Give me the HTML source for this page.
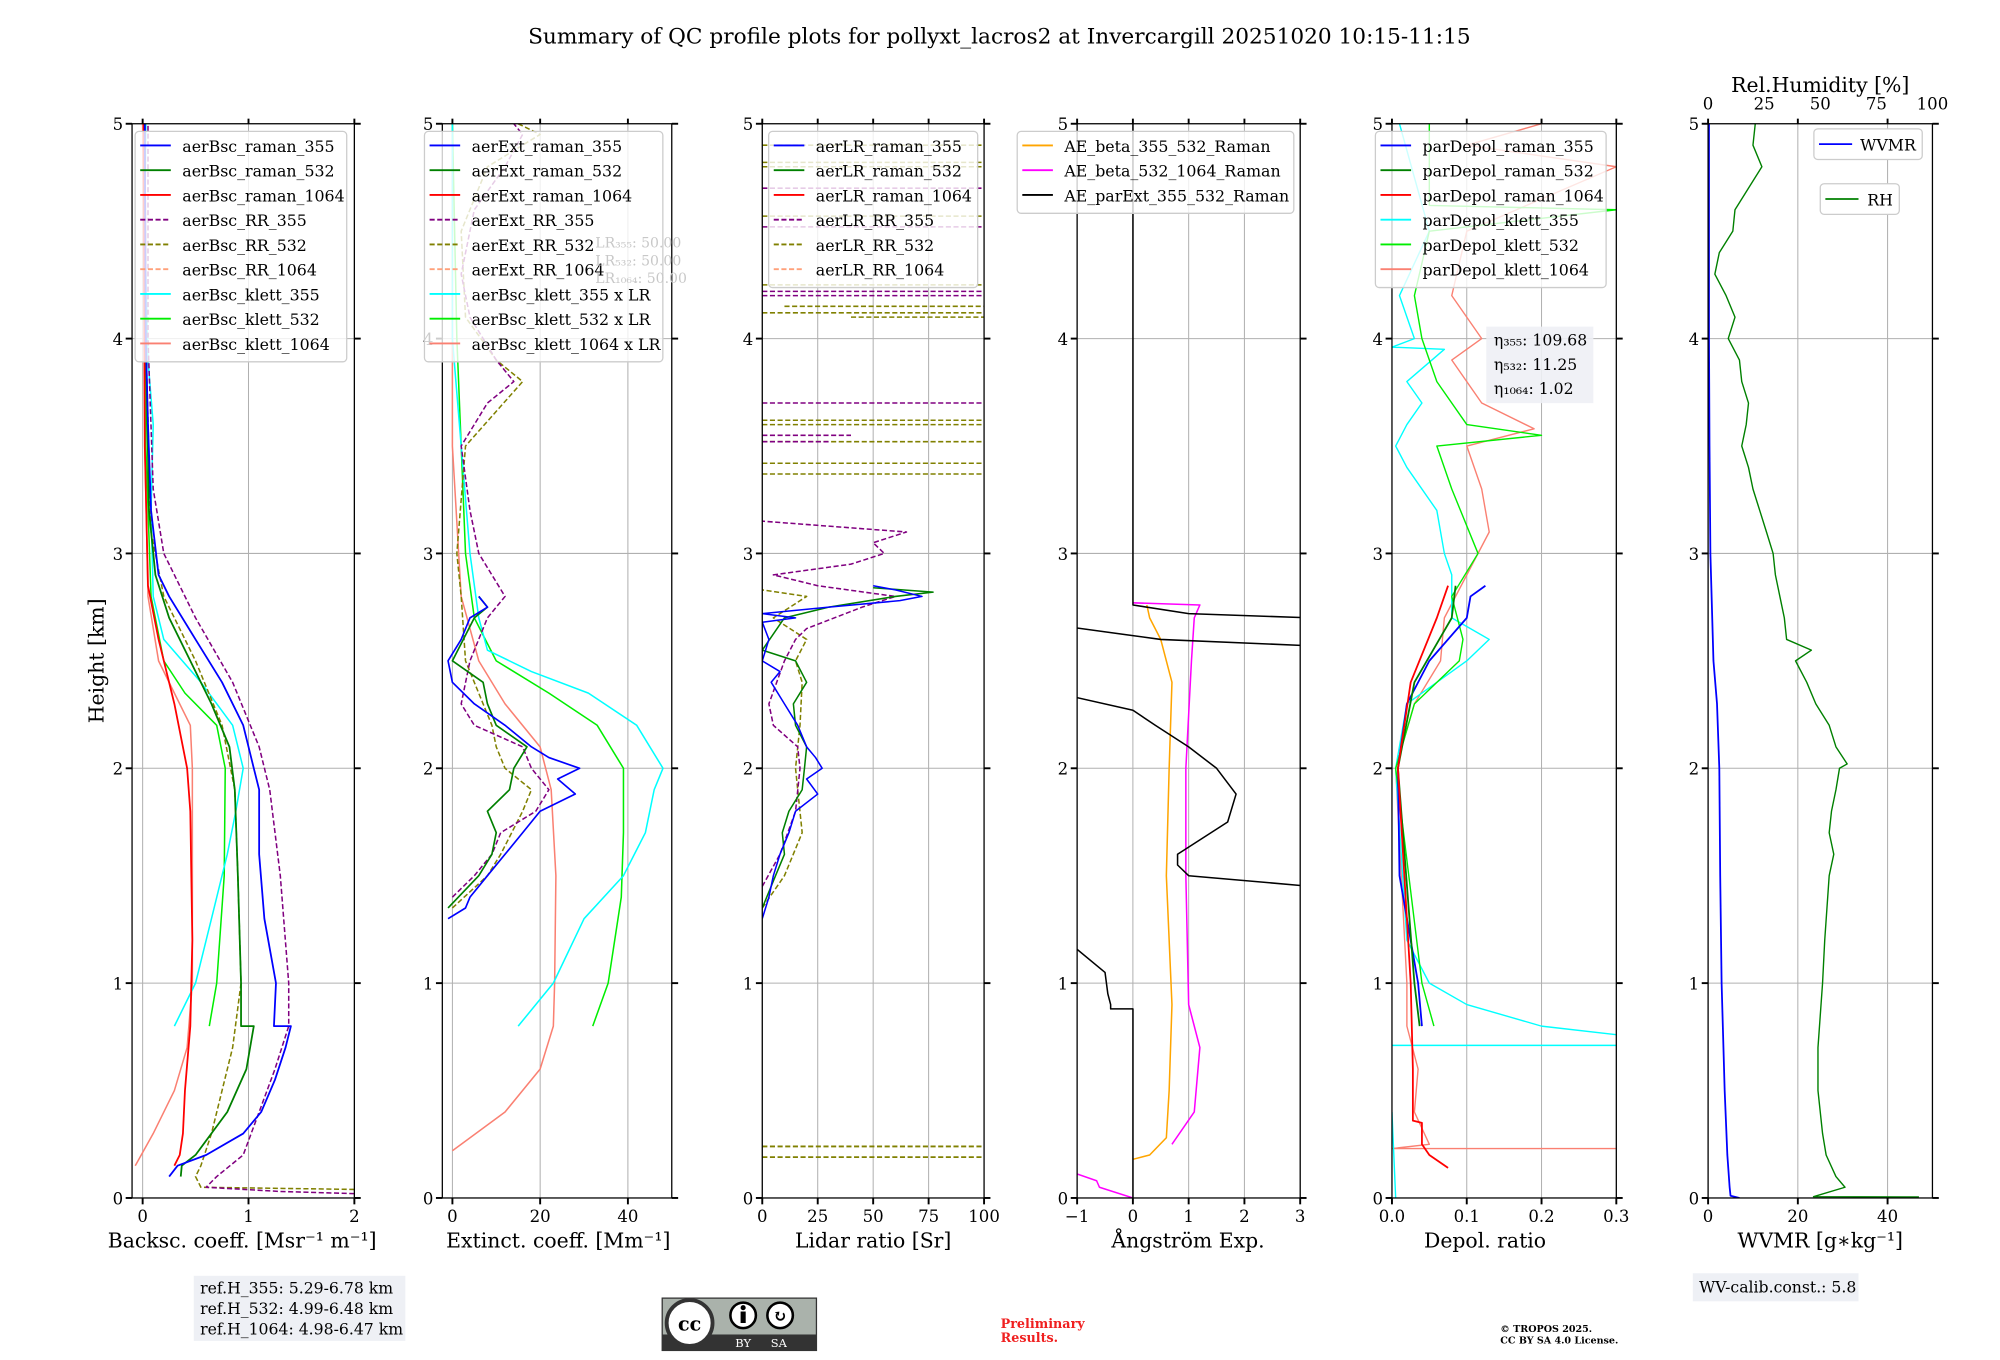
<!DOCTYPE html>
<html><head><meta charset="utf-8">
<style>
html,body{margin:0;padding:0;background:#fff;}
svg{display:block;}
text{font-family:"DejaVu Serif","Liberation Serif",serif;fill:#000;}
</style></head>
<body>
<svg id="chart" width="2000" height="1360" viewBox="0 0 1569 1066" preserveAspectRatio="none" xmlns="http://www.w3.org/2000/svg">
<text x="784" y="34" font-size="17" text-anchor="middle">Summary of QC profile plots for pollyxt_lacros2 at Invercargill 20251020 10:15-11:15</text>
<text transform="translate(81,518) rotate(-90)" font-size="16" text-anchor="middle">Height [km]</text>
<g id="plots"></g>
<g>
<rect x="152" y="1000" width="166" height="51" fill="#eef0f5"/>
<text x="157" y="1014" font-size="12.3">ref.H_355: 5.29-6.78 km</text>
<text x="157" y="1030" font-size="12.3">ref.H_532: 4.99-6.48 km</text>
<text x="157" y="1046" font-size="12.3">ref.H_1064: 4.98-6.47 km</text>
</g>
<g>
<rect x="519" y="1017" width="122" height="42" fill="#333"/>
<rect x="520" y="1018" width="120" height="28" fill="#aab2ab"/>
<circle cx="541" cy="1037" r="18" fill="#fff" stroke="#333" stroke-width="3"/>
<text x="541" y="1043" font-size="15" font-weight="bold" text-anchor="middle" font-family="Liberation Sans">cc</text>
<circle cx="583" cy="1031" r="10" fill="#fff" stroke="#000" stroke-width="2"/>
<rect x="581" y="1028" width="4" height="9" fill="#000"/><circle cx="583" cy="1025" r="2" fill="#000"/>
<circle cx="612" cy="1031" r="10" fill="#fff" stroke="#000" stroke-width="2"/>
<text x="612" y="1036" font-size="13" font-weight="bold" text-anchor="middle" font-family="Liberation Sans">↻</text>
<text x="583" y="1056" font-size="9" style="fill:#fff" text-anchor="middle" font-family="Liberation Sans">BY</text>
<text x="611" y="1056" font-size="9" style="fill:#fff" text-anchor="middle" font-family="Liberation Sans">SA</text>
</g>
<text x="785" y="1041" font-size="10" font-weight="bold" style="fill:#f02020">Preliminary</text>
<text x="785" y="1052" font-size="10" font-weight="bold" style="fill:#f02020">Results.</text>
<text x="1177" y="1044" font-size="7.5" font-weight="bold">© TROPOS 2025.</text>
<text x="1177" y="1053" font-size="7.5" font-weight="bold">CC BY SA 4.0 License.</text>
<g>
<rect x="1328" y="998" width="130" height="22" fill="#eef0f5"/>
<text x="1333" y="1013" font-size="12.3">WV-calib.const.: 5.8</text>
</g>
</svg>
<script>
// ---- Panel 1: backscatter ----
const b_r355_h=[0.1,0.15,0.2,0.3,0.4,0.55,0.7,0.8,0.8,1.0,1.3,1.6,1.9,2.0,2.2,2.4,2.6,2.8,2.9,3.2,3.6,4.0,5.0];
const b_r355_v=[0.25,0.33,0.6,0.95,1.12,1.25,1.35,1.4,1.24,1.26,1.15,1.1,1.1,1.05,0.95,0.75,0.5,0.25,0.15,0.08,0.05,0.03,0.02];
const b_r532_h=[0.1,0.15,0.2,0.4,0.6,0.8,0.8,1.0,1.5,1.9,2.1,2.3,2.5,2.7,2.9,3.2,4.0,5.0];
const b_r532_v=[0.36,0.37,0.5,0.8,0.98,1.05,0.93,0.93,0.9,0.87,0.82,0.65,0.45,0.25,0.12,0.06,0.03,0.02];
const b_r1064_h=[0.15,0.2,0.3,0.5,0.8,1.2,1.8,2.0,2.3,2.6,2.85,3.5,5.0];
const b_r1064_v=[0.3,0.35,0.38,0.4,0.45,0.47,0.45,0.42,0.3,0.15,0.05,0.02,0.01];
const b_rr355_h=[0.02,0.03,0.05,0.1,0.2,0.4,0.6,0.8,1.0,1.5,1.9,2.1,2.4,2.7,3.0,3.3,4.0,5.0];
const b_rr355_v=[2.0,1.3,0.6,0.7,0.95,1.1,1.25,1.38,1.38,1.3,1.2,1.1,0.85,0.5,0.2,0.1,0.05,0.05];
const b_rr532_h=[0.04,0.05,0.1,0.15,0.3,0.5,0.7,1.0,1.5,1.9,2.2,2.5,2.8,3.1,4.0,5.0];
const b_rr532_v=[2.0,0.55,0.5,0.55,0.65,0.75,0.85,0.93,0.9,0.87,0.75,0.5,0.2,0.08,0.03,0.02];
const b_k355_h=[0.8,1.0,1.3,1.6,1.8,2.0,2.2,2.4,2.6,2.8,3.2,3.6,3.9,4.5,5.0];
const b_k355_v=[0.3,0.5,0.65,0.8,0.88,0.95,0.85,0.55,0.2,0.1,0.08,0.1,0.05,0.02,0.03];
const b_k532_h=[0.8,1.0,1.5,2.0,2.2,2.35,2.5,2.8,3.5,5.0];
const b_k532_v=[0.63,0.7,0.77,0.78,0.7,0.4,0.2,0.08,0.03,0.02];
const b_k1064_h=[0.15,0.3,0.5,0.7,1.0,1.5,2.0,2.2,2.35,2.5,2.8,3.5,5.0];
const b_k1064_v=[-0.07,0.1,0.3,0.42,0.47,0.47,0.47,0.45,0.3,0.15,0.05,0.02,0.0];
// ---- Panel 2: extinction ----
const e_r355_h=[1.3,1.35,1.4,1.5,1.6,1.7,1.8,1.88,1.95,2.0,2.05,2.1,2.2,2.3,2.4,2.5,2.6,2.7,2.75,2.8];
const e_r355_v=[-1,3,4,8,12,16,20,28,24,29,22,18,12,5,0,-1,2,4,8,6];
const e_r532_h=[1.35,1.5,1.6,1.7,1.8,1.9,2.0,2.1,2.2,2.3,2.4,2.5,2.7,2.75,2.8];
const e_r532_v=[-1,6,9,10,8,13,14,17,10,8,7,0,5,8,6];
const e_rr355_h=[1.4,1.5,1.6,1.7,1.8,1.9,2.0,2.1,2.2,2.3,2.5,2.7,2.8,3.0,3.2,3.5,3.7,3.8,3.9,4.1,4.3,4.6,4.8,4.95,5.0];
const e_rr355_v=[0,5,9,11,19,22,18,16,5,2,4,8,12,6,4,2,8,14,10,4,2,5,12,16,14];
const e_rr532_h=[1.35,1.5,1.6,1.8,1.9,2.0,2.1,2.2,2.3,2.5,2.8,3.0,3.5,3.8,3.9,4.1,4.5,4.8,4.95,5.0];
const e_rr532_v=[0,8,11,16,18,12,10,9,7,3,2,1,3,16,10,3,2,8,20,15];
const e_k355_h=[0.8,1.0,1.3,1.5,1.7,1.9,2.0,2.2,2.35,2.45,2.55,2.7,3.0,3.5,4.0,5.0];
const e_k355_v=[15,23,30,39,44,46,48,42,31,18,8,6,4,2,0,0];
const e_k532_h=[0.8,1.0,1.4,1.7,2.0,2.2,2.35,2.5,2.7,3.0,4.0,5.0];
const e_k532_v=[32,35.5,38.5,39,39,33,22,10,5,3,1,0];
const e_k1064_h=[0.22,0.4,0.6,0.8,1.0,1.5,1.9,2.1,2.3,2.5,2.8,3.5,5.0];
const e_k1064_v=[0,12,20,23,23.3,23.6,22.5,20,12,6,2,0,0];
// ---- Panel 3: lidar ratio ----
const l_r355_h=[1.3,1.4,1.5,1.6,1.7,1.8,1.88,1.95,2.0,2.05,2.1,2.2,2.3,2.4,2.45,2.5,2.6,2.68,2.7,2.72,2.75,2.78,2.8,2.83,2.85];
const l_r355_v=[0,3,5,8,12,15,25,20,27,24,20,16,10,4,8,0,3,0,15,0,30,62,72,60,50];
const l_r532_h=[1.35,1.5,1.6,1.7,1.8,1.9,2.0,2.1,2.2,2.3,2.4,2.5,2.55,2.7,2.75,2.8,2.82,2.84];
const l_r532_v=[0,6,10,9,12,18,19,20,15,14,20,15,0,10,30,60,77,50];
const l_rr355_h=[1.45,1.6,1.8,2.0,2.1,2.2,2.3,2.5,2.6,2.65,2.75,2.8,2.85,2.9,2.95,3.0,3.05,3.1,3.15,null,3.52,3.52,null,3.55,3.55,null,3.7,3.7,null,4.2,4.2,null,4.22,4.22,null,4.52,4.52,null,4.7,4.7];
const l_rr355_v=[0,8,15,17,16,5,3,10,15,20,45,60,25,5,40,55,50,65,0,null,0,30,null,0,40,null,0,100,null,0,100,null,0,100,null,0,100,null,0,100];
const l_rr532_h=[1.35,1.5,1.7,1.9,2.0,2.2,2.4,2.5,2.6,2.7,2.8,2.83,null,3.37,3.37,null,3.42,3.42,null,3.52,3.52,null,3.6,3.6,null,3.62,3.62,null,4.1,4.1,null,4.12,4.12,null,4.15,4.15,null,4.25,4.25,null,4.57,4.57,null,4.8,4.8,null,4.82,4.82,null,4.9,4.9];
const l_rr532_v=[0,10,18,16,15,17,18,15,20,5,20,0,null,0,100,null,0,100,null,0,100,null,0,100,null,0,100,null,40,100,null,0,100,null,10,100,null,0,100,null,0,100,null,0,100,null,0,100,null,0,100];
const l_low_h=[0.19,0.19,null,0.24,0.24];
const l_low_v=[0,100,null,0,100];
// ---- Panel 4: Angstrom ----
const a_b355_h=[0.18,0.2,0.28,0.5,0.9,1.5,2.0,2.4,2.6,2.7,2.76];
const a_b355_v=[0,0.3,0.6,0.65,0.7,0.6,0.65,0.7,0.5,0.3,0.25];
const a_b532_h=[0,0.05,0.08,0.13,null,0.25,0.4,0.7,0.9,1.5,2.0,2.5,2.7,2.76,2.77];
const a_b532_v=[0,-0.6,-0.65,-1.2,null,0.7,1.1,1.2,1.0,0.95,0.95,1.05,1.1,1.2,0];
const a_e_h=[0,0.88,0.88,0.9,0.95,1.05,1.2,null,1.45,1.5,1.55,1.6,1.75,1.88,2.0,2.1,2.2,2.27,2.34,null,2.57,2.6,2.66,null,2.7,2.72,2.76,5.0];
const a_e_v=[0,0,-0.4,-0.4,-0.45,-0.5,-1.2,null,3.2,1.0,0.8,0.8,1.7,1.85,1.5,1.0,0.4,0.0,-1.2,null,3.2,0.5,-1.2,null,3.2,1.0,0,0];
// ---- Panel 5: depol ----
const d_r355_h=[0.8,1.0,1.5,2.0,2.3,2.5,2.7,2.8,2.85];
const d_r355_v=[0.04,0.035,0.01,0.008,0.02,0.05,0.1,0.105,0.125];
const d_r532_h=[0.8,1.0,2.0,2.4,2.7,2.85];
const d_r532_v=[0.037,0.03,0.008,0.03,0.08,0.085];
const d_r1064_h=[0.14,0.2,0.25,0.35,0.36,0.6,1.0,2.0,2.4,2.7,2.85];
const d_r1064_v=[0.075,0.05,0.04,0.04,0.028,0.028,0.025,0.008,0.025,0.06,0.075];
const d_k355_h=[0,0.4,null,0.71,0.71,null,0.76,0.8,0.9,1.0,1.2,2.0,2.3,2.5,2.6,2.7,2.9,3.0,3.2,3.4,3.5,3.6,3.7,3.8,3.95,3.96,4.0,4.2,4.5,5.0];
const d_k355_v=[0.005,0.0,null,0.0,0.3,null,0.3,0.2,0.1,0.05,0.02,0.005,0.02,0.1,0.13,0.08,0.08,0.07,0.06,0.02,0.005,0.02,0.04,0.02,0.07,0.0,0.03,0.01,0.05,0.01];
const d_k532_h=[0.8,1.0,2.0,2.3,2.5,2.6,2.8,3.0,3.3,3.5,3.55,3.6,3.8,4.0,4.2,4.5,4.6,4.62,5.0];
const d_k532_v=[0.056,0.04,0.005,0.03,0.09,0.095,0.08,0.115,0.08,0.06,0.2,0.1,0.06,0.04,0.03,0.05,0.3,0.05,0.05];
const d_k1064_h=[0.23,0.23,0.25,0.4,0.6,0.8,1.0,2.0,2.3,2.5,2.7,2.9,3.1,3.3,3.5,3.58,3.7,3.9,4.0,4.2,4.5,4.8,4.9,5.0];
const d_k1064_v=[0.3,0.0,0.05,0.03,0.035,0.02,0.02,0.005,0.03,0.065,0.07,0.1,0.13,0.12,0.1,0.19,0.12,0.08,0.12,0.08,0.1,0.3,0.1,0.2];
// ---- Panel 6: WVMR / RH ----
const w_h=[0,0.01,0.05,0.2,0.5,1.0,1.5,2.0,2.3,2.5,3.0,3.5,4.0,5.0];
const w_v=[7,5,4.8,4.3,3.7,3.0,2.7,2.5,2.0,1.2,0.5,0.3,0.2,0.2];
const rh_h=[0.005,0.006,0.05,0.1,0.2,0.3,0.5,0.7,1.0,1.2,1.5,1.6,1.7,1.8,1.9,2.0,2.02,2.1,2.2,2.3,2.4,2.5,2.55,2.6,2.7,2.8,2.9,3.0,3.1,3.2,3.3,3.4,3.5,3.6,3.7,3.8,3.9,4.0,4.1,4.2,4.3,4.4,4.5,4.6,4.7,4.8,4.9,5.0];
const rh_v=[94,47,61,57,52.6,51,49,49,51,52,54,56,54,55,57,58.6,62,57,54,48,44,39,46,35,34,32,30,29,26,23,20,18,15,17,18,15,14,9,12,8,3,5,11,12,18,24,20,21];

const panels=[
 {name:'backscatter',x0:103.6,x1:278,lo:-0.1,hi:2,ticks:[0,1,2],tl:['0','1','2'],label:'Backsc. coeff. [Msr⁻¹ m⁻¹]',lx:190},
 {name:'extinction',x0:347,x1:527,lo:-2.3,hi:50,ticks:[0,20,40],tl:['0','20','40'],label:'Extinct. coeff. [Mm⁻¹]',lx:438},
 {name:'lidar-ratio',x0:598,x1:772,lo:0,hi:100,ticks:[0,25,50,75,100],tl:['0','25','50','75','100'],label:'Lidar ratio [Sr]',lx:685},
 {name:'angstrom',x0:845,x1:1020,lo:-1,hi:3,ticks:[-1,0,1,2,3],tl:['−1','0','1','2','3'],label:'Ångström Exp.',lx:932},
 {name:'depol',x0:1092,x1:1268,lo:0,hi:0.3,ticks:[0,0.1,0.2,0.3],tl:['0.0','0.1','0.2','0.3'],label:'Depol. ratio',lx:1165},
 {name:'wvmr',x0:1340,x1:1516,lo:0,hi:50,ticks:[0,20,40],tl:['0','20','40'],label:'WVMR [g∗kg⁻¹]',lx:1428}
];
const Y0=939,Y5=97;
const yS=h=>Y0-(Y0-Y5)*h/5;
const NS='http://www.w3.org/2000/svg';
const root=document.getElementById('plots');
function mk(tag,attrs,parent){const e=document.createElementNS(NS,tag);for(const k in attrs)e.setAttribute(k,attrs[k]);(parent||root).appendChild(e);return e;}
function xS(p,v){return p.x0+(v-p.lo)/(p.hi-p.lo)*(p.x1-p.x0);}

const series={
 0:[[b_k1064_h,b_k1064_v,'#fa8072',0,1.2,'aerBsc_klett_1064'],[b_k532_h,b_k532_v,'#00ee00',0,1.2,'aerBsc_klett_532'],[b_k355_h,b_k355_v,'#00ffff',0,1.2,'aerBsc_klett_355'],
    [b_rr532_h,b_rr532_v,'#808000',1,1.2,'aerBsc_RR_532'],[b_rr355_h,b_rr355_v,'#800080',1,1.2,'aerBsc_RR_355'],
    [b_r1064_h,b_r1064_v,'#ff0000',0,1.4,'aerBsc_raman_1064'],[b_r532_h,b_r532_v,'#008000',0,1.4,'aerBsc_raman_532'],[b_r355_h,b_r355_v,'#0000ff',0,1.4,'aerBsc_raman_355']],
 1:[[e_k1064_h,e_k1064_v,'#fa8072',0,1.2,'aerBsc_klett_1064_x_LR'],[e_k532_h,e_k532_v,'#00ee00',0,1.2,'aerBsc_klett_532_x_LR'],[e_k355_h,e_k355_v,'#00ffff',0,1.2,'aerBsc_klett_355_x_LR'],
    [e_rr532_h,e_rr532_v,'#808000',1,1.2,'aerExt_RR_532'],[e_rr355_h,e_rr355_v,'#800080',1,1.2,'aerExt_RR_355'],
    [e_r532_h,e_r532_v,'#008000',0,1.3,'aerExt_raman_532'],[e_r355_h,e_r355_v,'#0000ff',0,1.3,'aerExt_raman_355']],
 2:[[l_low_h,l_low_v,'#808000',1,1.4,'aerLR_RR_532_low'],[l_rr532_h,l_rr532_v,'#808000',1,1.2,'aerLR_RR_532'],[l_rr355_h,l_rr355_v,'#800080',1,1.2,'aerLR_RR_355'],
    [l_r532_h,l_r532_v,'#008000',0,1.2,'aerLR_raman_532'],[l_r355_h,l_r355_v,'#0000ff',0,1.2,'aerLR_raman_355']],
 3:[[a_b355_h,a_b355_v,'#ffa500',0,1.2,'AE_beta_355_532'],[a_b532_h,a_b532_v,'#ff00ff',0,1.2,'AE_beta_532_1064'],[a_e_h,a_e_v,'#000000',0,1.2,'AE_parExt_355_532']],
 4:[[d_k1064_h,d_k1064_v,'#fa8072',0,1.1,'parDepol_klett_1064'],[d_k355_h,d_k355_v,'#00ffff',0,1.1,'parDepol_klett_355'],[d_k532_h,d_k532_v,'#00ee00',0,1.1,'parDepol_klett_532'],
    [d_r355_h,d_r355_v,'#0000ff',0,1.4,'parDepol_raman_355'],[d_r532_h,d_r532_v,'#008000',0,1.4,'parDepol_raman_532'],[d_r1064_h,d_r1064_v,'#ff0000',0,1.4,'parDepol_raman_1064']],
 5:[[w_h,w_v,'#0000ff',0,1.4,'WVMR'],[rh_h,rh_v,'#008000',0,1.1,'RH']]
};
const legends={
 0:[['aerBsc_raman_355','#0000ff',0],['aerBsc_raman_532','#008000',0],['aerBsc_raman_1064','#ff0000',0],['aerBsc_RR_355','#800080',1],['aerBsc_RR_532','#808000',1],['aerBsc_RR_1064','#ffa07a',1],['aerBsc_klett_355','#00ffff',0],['aerBsc_klett_532','#00ee00',0],['aerBsc_klett_1064','#fa8072',0]],
 1:[['aerExt_raman_355','#0000ff',0],['aerExt_raman_532','#008000',0],['aerExt_raman_1064','#ff0000',0],['aerExt_RR_355','#800080',1],['aerExt_RR_532','#808000',1],['aerExt_RR_1064','#ffa07a',1],['aerBsc_klett_355 x LR','#00ffff',0],['aerBsc_klett_532 x LR','#00ee00',0],['aerBsc_klett_1064 x LR','#fa8072',0]],
 2:[['aerLR_raman_355','#0000ff',0],['aerLR_raman_532','#008000',0],['aerLR_raman_1064','#ff0000',0],['aerLR_RR_355','#800080',1],['aerLR_RR_532','#808000',1],['aerLR_RR_1064','#ffa07a',1]],
 3:[['AE_beta_355_532_Raman','#ffa500',0],['AE_beta_532_1064_Raman','#ff00ff',0],['AE_parExt_355_532_Raman','#000000',0]],
 4:[['parDepol_raman_355','#0000ff',0],['parDepol_raman_532','#008000',0],['parDepol_raman_1064','#ff0000',0],['parDepol_klett_355','#00ffff',0],['parDepol_klett_532','#00ee00',0],['parDepol_klett_1064','#fa8072',0]]
};
const legPos={0:[106,103,166],1:[333,103,187],2:[603,103,164],3:[798,103,217],4:[1079,103,181]};

panels.forEach((p,i)=>{
  const g=mk('g',{});
  
  
  const cp=mk('clipPath',{id:'clip'+i},g);
  mk('rect',{x:p.x0,y:Y5,width:p.x1-p.x0,height:Y0-Y5},cp);
  p.ticks.forEach(t=>{const x=xS(p,t);
    const gl=mk('line',{x1:x,x2:x,y1:Y5,y2:Y0,stroke:'#b0b0b0','stroke-width':0.8},g);
    
    
  });
  for(let h=1;h<5;h++){const gl=mk('line',{x1:p.x0,x2:p.x1,y1:yS(h),y2:yS(h),stroke:'#b0b0b0','stroke-width':0.8},g);
    
    }
  const sg=mk('g',{'clip-path':'url(#clip'+i+')'},g);
  series[i].forEach(s=>{
    const [H,V,col,dash,w,nm]=s;
    const isRH=(nm==='RH');
    let d='',pen=false;
    for(let k=0;k<H.length;k++){
      if(H[k]===null){pen=false;continue;}
      const x=isRH?(p.x0+V[k]/100*(p.x1-p.x0)):xS(p,V[k]);
      d+=(pen?'L':'M')+x.toFixed(1)+' '+yS(H[k]).toFixed(1);pen=true;
    }
    const path=mk('path',{d:d,fill:'none',stroke:col,'stroke-width':w,'stroke-dasharray':dash?'4 2':'none','stroke-linejoin':'round'},sg);
    
    
  });
  const fr=mk('rect',{x:p.x0,y:Y5,width:p.x1-p.x0,height:Y0-Y5,fill:'none',stroke:'#000','stroke-width':1},g);
  
  
  p.ticks.forEach((t,j)=>{const x=xS(p,t);
    mk('line',{x1:x,x2:x,y1:Y0,y2:Y0+5,stroke:'#000','stroke-width':1.5},g);
    mk('line',{x1:x,x2:x,y1:Y5,y2:Y5-4,stroke:'#000','stroke-width':1.5},g);
    const tx=mk('text',{x:x,y:Y0+19,'font-size':13,'text-anchor':'middle'},g);tx.textContent=p.tl[j];
    
    
  });
  for(let h=0;h<=5;h++){const y=yS(h);
    mk('line',{x1:p.x0-5,x2:p.x0,y1:y,y2:y,stroke:'#000','stroke-width':1.5},g);
    mk('line',{x1:p.x1,x2:p.x1+5,y1:y,y2:y,stroke:'#000','stroke-width':1.5},g);
    const tx=mk('text',{x:p.x0-7,y:y+5,'font-size':13,'text-anchor':'end'},g);tx.textContent=String(h);
    
    
  }
  const xl=mk('text',{x:p.lx,y:978,'font-size':16,'text-anchor':'middle'},g);xl.textContent=p.label;
  
  
  if(legends[i]){
    const [lx,ly,lw]=legPos[i];const L=legends[i];
    const lg=mk('g',{},g);
    
    
    mk('rect',{x:lx,y:ly,width:lw,height:L.length*19.4+6,rx:3,fill:'#fff','fill-opacity':0.8,stroke:'#ccc','stroke-width':1},lg);
    L.forEach((e,k)=>{const yy=ly+11+k*19.4;
      mk('line',{x1:lx+4,x2:lx+28,y1:yy,y2:yy,stroke:e[1],'stroke-width':1.4,'stroke-dasharray':e[2]?'4 2':'none'},lg);
      const t=mk('text',{x:lx+37,y:yy+5,'font-size':12.4},lg);t.textContent=e[0];
      
      
    });
  }
});
['LR₃₅₅: 50.00','LR₅₃₂: 50.00','LR₁₀₆₄: 50.00'].forEach((s,k)=>{
  const t=mk('text',{x:467,y:194+k*14,'font-size':11,style:'fill:#c8c8c8'});t.textContent=s;
  
  
});
mk('rect',{x:1166,y:256,width:84,height:60,fill:'#eef0f5','fill-opacity':0.9});
['η₃₅₅: 109.68','η₅₃₂: 11.25','η₁₀₆₄: 1.02'].forEach((s,k)=>{
  const t=mk('text',{x:1172,y:271+k*19,'font-size':12.3});t.textContent=s;
  
  
});
const p6=panels[5];
['0','25','50','75','100'].forEach((s,k)=>{const x=p6.x0+k*(p6.x1-p6.x0)/4;
  const t=mk('text',{x:x,y:86,'font-size':13,'text-anchor':'middle'});t.textContent=s;
  
  
});
const rt=mk('text',{x:1428,y:72,'font-size':16,'text-anchor':'middle'});rt.textContent='Rel.Humidity [%]';


[[1423,101,85,'WVMR','#0000ff'],[1428,144,62,'RH','#008000']].forEach(l=>{
  const lg=mk('g',{});
  
  
  mk('rect',{x:l[0],y:l[1],width:l[2],height:24,rx:3,fill:'#fff',stroke:'#ccc'},lg);
  mk('line',{x1:l[0]+4,x2:l[0]+30,y1:l[1]+12,y2:l[1]+12,stroke:l[4],'stroke-width':1.4},lg);
  const t=mk('text',{x:l[0]+l[2]-5,y:l[1]+17,'font-size':12.4,'text-anchor':'end'},lg);t.textContent=l[3];
});
</script>
</body></html>
